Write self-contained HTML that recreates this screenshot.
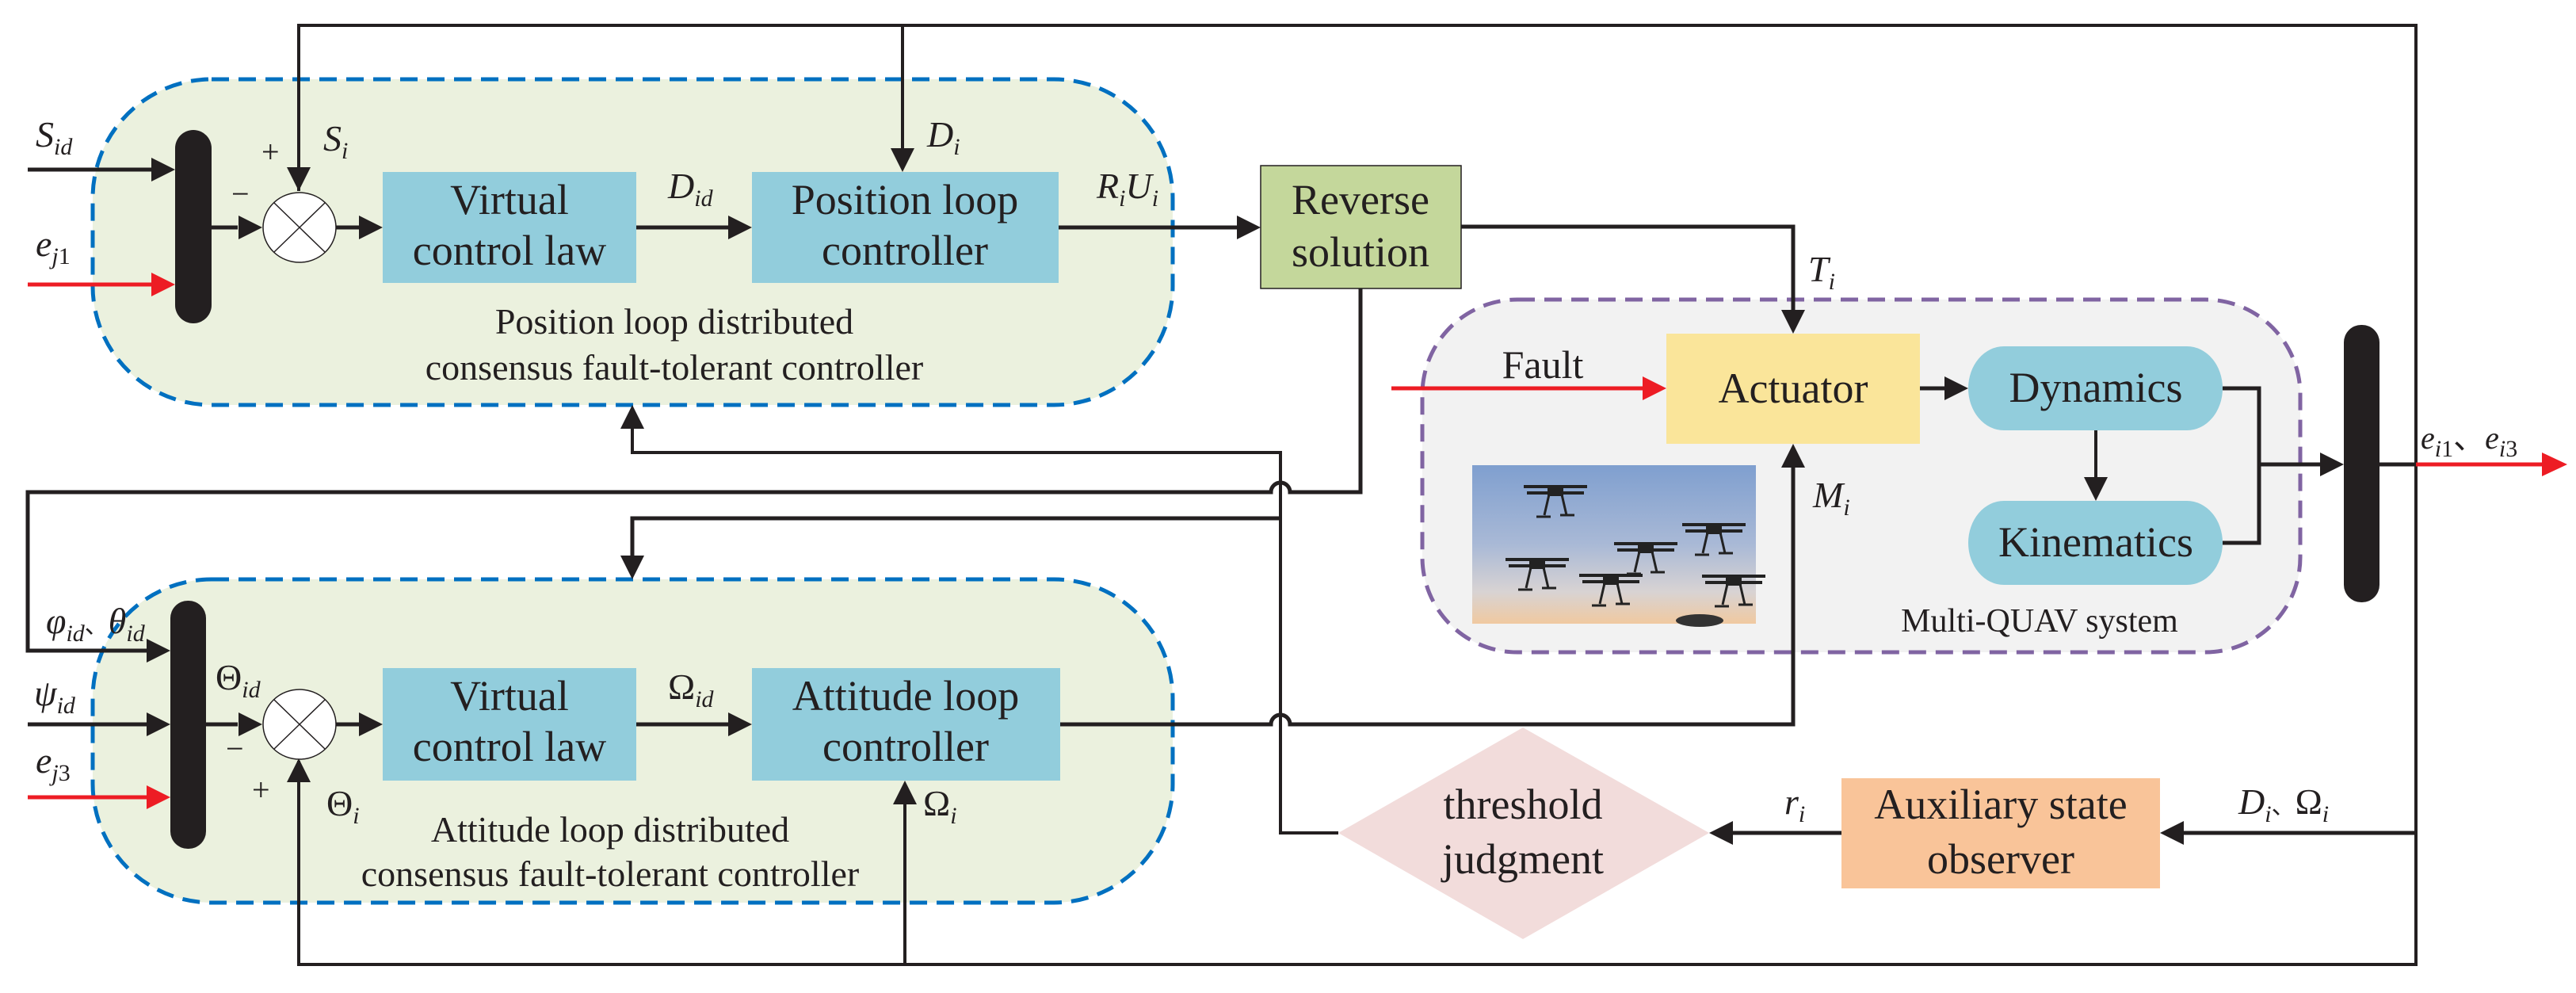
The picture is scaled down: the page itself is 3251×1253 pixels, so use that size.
<!DOCTYPE html>
<html><head><meta charset="utf-8"><style>
html,body{margin:0;padding:0;background:#fff;}
svg{display:block;}
text{font-family:"Liberation Serif",serif;fill:#231f20;}
.t{font-size:54px;text-anchor:middle;}
.c{font-size:46px;text-anchor:middle;}
.i{font-style:italic;font-size:46px;}
.s{font-size:30px;}
</style></head><body>
<svg width="3251" height="1253" viewBox="0 0 3251 1253" xmlns="http://www.w3.org/2000/svg">
<defs>
<linearGradient id="sky" x1="0" y1="0" x2="0" y2="1">
<stop offset="0" stop-color="#7f9fcf"/><stop offset="0.5" stop-color="#a9b9d6"/><stop offset="0.8" stop-color="#d8d3d3"/><stop offset="1" stop-color="#f0c9a0"/>
</linearGradient>
<g id="dr">
<rect x="-10" y="-8" width="20" height="14" fill="#222"/>
<line x1="-40" y1="-6" x2="40" y2="-6" stroke="#222" stroke-width="4"/>
<line x1="-36" y1="2" x2="36" y2="2" stroke="#222" stroke-width="4"/>
<line x1="-8" y1="4" x2="-14" y2="30" stroke="#222" stroke-width="3"/>
<line x1="8" y1="4" x2="14" y2="30" stroke="#222" stroke-width="3"/>
<line x1="-24" y1="32" x2="-6" y2="32" stroke="#222" stroke-width="3"/>
<line x1="6" y1="30" x2="24" y2="30" stroke="#222" stroke-width="3"/>
</g>
</defs>

<rect x="117" y="100" width="1363" height="411" rx="150" ry="150" fill="#ebf1de" stroke="#0070c0" stroke-width="5" stroke-dasharray="22 12"/>
<rect x="117" y="731" width="1363" height="408" rx="150" ry="150" fill="#ebf1de" stroke="#0070c0" stroke-width="5" stroke-dasharray="22 12"/>
<rect x="1795" y="378" width="1108" height="445" rx="120" ry="120" fill="#f2f2f2" stroke="#8064a2" stroke-width="5" stroke-dasharray="22 12"/>

<g stroke="#231f20" fill="none" stroke-width="4">
<polyline points="377,241 377,32 3049,32 3049,1217 377,1217 377,960"/>
<line x1="1139" y1="32" x2="1139" y2="200"/>
<line x1="1142" y1="1217" x2="1142" y2="1000"/>
<line x1="35" y1="214" x2="205" y2="214" stroke-width="5"/>
<line x1="266" y1="287" x2="300" y2="287" stroke-width="5"/>
<line x1="424" y1="287" x2="455" y2="287" stroke-width="5"/>
<line x1="803" y1="287" x2="920" y2="287" stroke-width="5"/>
<line x1="1336" y1="287" x2="1562" y2="287" stroke-width="5"/>
<polyline points="1844,286 2263,286 2263,400" stroke-width="5"/>
<path d="M1717,364 L1717,621 L1628,621 A12 12 0 0 0 1604,621 L35,621 L35,821 L190,821" stroke-width="5"/>
<polyline points="798,540 798,571 1616,571 1616,1051 1689,1051" stroke-width="4"/>
<polyline points="1616,654 798,654 798,705" stroke-width="5"/>
<line x1="35" y1="914" x2="190" y2="914" stroke-width="5"/>
<line x1="260" y1="914" x2="300" y2="914" stroke-width="5"/>
<line x1="424" y1="914" x2="455" y2="914" stroke-width="5"/>
<line x1="803" y1="914" x2="920" y2="914" stroke-width="5"/>
<path d="M1338,914 L1604,914 A12 12 0 0 1 1628,914 L2263,914 L2263,590" stroke-width="5"/>
<line x1="2423" y1="490" x2="2455" y2="490" stroke-width="5"/>
<polyline points="2805,490 2851,490 2851,685 2805,685" stroke-width="5"/>
<line x1="2851" y1="586" x2="2930" y2="586" stroke-width="5"/>
<line x1="2645" y1="543" x2="2645" y2="605"/>
<line x1="3003" y1="586" x2="3049" y2="586" stroke-width="5"/>
<line x1="3049" y1="1051" x2="2755" y2="1051" stroke-width="5"/>
<line x1="2324" y1="1051" x2="2185" y2="1051" stroke-width="5"/>
</g>
<g stroke="#ed1c24" stroke-width="5">
<line x1="35" y1="359" x2="195" y2="359"/>
<line x1="35" y1="1006" x2="190" y2="1006"/>
<line x1="1756" y1="490" x2="2075" y2="490"/>
<line x1="3049" y1="586" x2="3210" y2="586"/>
</g>
<g fill="#231f20">
<polygon points="221,214 191,199 191,229"/>
<polygon points="331,287 301,272 301,302"/>
<polygon points="483,287 453,272 453,302"/>
<polygon points="949,287 919,272 919,302"/>
<polygon points="1591,287 1561,272 1561,302"/>
<polygon points="377,241 362,211 392,211"/>
<polygon points="1139,217 1124,187 1154,187"/>
<polygon points="798,511 783,541 813,541"/>
<polygon points="798,731 783,701 813,701"/>
<polygon points="2263,421 2248,391 2278,391"/>
<polygon points="2263,560 2248,590 2278,590"/>
<polygon points="2484,490 2454,475 2454,505"/>
<polygon points="2645,632 2630,602 2660,602"/>
<polygon points="2958,586 2928,571 2928,601"/>
<polygon points="215,821 185,806 185,836"/>
<polygon points="215,914 185,899 185,929"/>
<polygon points="331,914 301,899 301,929"/>
<polygon points="483,914 453,899 453,929"/>
<polygon points="949,914 919,899 919,929"/>
<polygon points="377,957 362,987 392,987"/>
<polygon points="1142,985 1127,1015 1157,1015"/>
<polygon points="2726,1051 2756,1036 2756,1066"/>
<polygon points="2157,1051 2187,1036 2187,1066"/>
</g>
<g fill="#ed1c24">
<polygon points="221,359 191,344 191,374"/>
<polygon points="215,1006 185,991 185,1021"/>
<polygon points="2103,490 2073,475 2073,505"/>
<polygon points="3240,586 3208,571 3208,601"/>
</g>

<rect x="221" y="164" width="46" height="244" rx="23" fill="#231f20"/>
<rect x="215" y="758" width="45" height="313" rx="22" fill="#231f20"/>
<rect x="2958" y="410" width="45" height="350" rx="22" fill="#231f20"/>

<g stroke="#231f20" stroke-width="1.5" fill="#fff">
<ellipse cx="378" cy="287" rx="46" ry="44"/>
<line x1="346" y1="256" x2="410" y2="318"/><line x1="410" y1="256" x2="346" y2="318"/>
<ellipse cx="378" cy="914" rx="46" ry="44"/>
<line x1="346" y1="883" x2="410" y2="945"/><line x1="410" y1="883" x2="346" y2="945"/>
</g>

<rect x="483" y="217" width="320" height="140" fill="#92cddc"/>
<rect x="949" y="217" width="387" height="140" fill="#92cddc"/>
<rect x="1591" y="209" width="253" height="155" fill="#c4d79b" stroke="#231f20" stroke-width="1.5"/>
<rect x="483" y="843" width="320" height="142" fill="#92cddc"/>
<rect x="949" y="843" width="389" height="142" fill="#92cddc"/>
<rect x="2103" y="421" width="320" height="139" fill="#fae59a"/>
<rect x="2484" y="437" width="321" height="106" rx="45" ry="53" fill="#92cddc"/>
<rect x="2484" y="632" width="321" height="106" rx="45" ry="53" fill="#92cddc"/>
<polygon points="1922,918 2157,1051 1922,1185 1689,1051" fill="#f2dcdb"/>
<rect x="2324" y="982" width="402" height="139" fill="#f9c499"/>

<rect x="1858" y="587" width="358" height="200" fill="url(#sky)"/>
<use href="#dr" x="1963" y="620"/>
<use href="#dr" x="1940" y="712"/>
<use href="#dr" x="2077" y="692"/>
<use href="#dr" x="2163" y="668"/>
<use href="#dr" x="2033" y="732"/>
<use href="#dr" x="2188" y="733"/>
<ellipse cx="2145" cy="783" rx="30" ry="8" fill="#333"/>

<text class="t" x="643" y="270">Virtual</text>
<text class="t" x="643" y="334">control law</text>
<text class="t" x="1142" y="270">Position loop</text>
<text class="t" x="1142" y="334">controller</text>
<text class="t" x="1717" y="270">Reverse</text>
<text class="t" x="1717" y="336">solution</text>
<text class="t" x="643" y="896">Virtual</text>
<text class="t" x="643" y="960">control law</text>
<text class="t" x="1143" y="896">Attitude loop</text>
<text class="t" x="1143" y="960">controller</text>
<text class="t" x="2263" y="508">Actuator</text>
<text class="t" x="2645" y="507">Dynamics</text>
<text class="t" x="2645" y="702">Kinematics</text>
<text class="t" x="1922" y="1033">threshold</text>
<text class="t" x="1922" y="1102">judgment</text>
<text class="t" x="2525" y="1033">Auxiliary state</text>
<text class="t" x="2525" y="1102">observer</text>
<text class="t" x="1947" y="477" style="font-size:50px">Fault</text>

<text class="c" x="851" y="421">Position loop distributed</text>
<text class="c" x="851" y="479">consensus fault-tolerant controller</text>
<text class="c" x="770" y="1062">Attitude loop distributed</text>
<text class="c" x="770" y="1118">consensus fault-tolerant controller</text>
<text class="c" x="2574" y="797" style="font-size:42px">Multi-QUAV system</text>

<text class="i" x="45" y="185">S<tspan class="s" dy="10">id</tspan></text>
<text class="i" x="45" y="323">e<tspan class="s" dy="10">j</tspan><tspan class="s" style="font-style:normal">1</tspan></text>
<text x="330" y="205" style="font-size:40px">+</text>
<text x="292" y="258" style="font-size:40px">−</text>
<text class="i" x="408" y="190">S<tspan class="s" dy="10">i</tspan></text>
<text class="i" x="843" y="250">D<tspan class="s" dy="10">id</tspan></text>
<text class="i" x="1170" y="185">D<tspan class="s" dy="10">i</tspan></text>
<text class="i" x="1384" y="250">R<tspan class="s" dy="10">i</tspan><tspan dy="-10">U</tspan><tspan class="s" dy="10">i</tspan></text>
<text class="i" x="2282" y="355">T<tspan class="s" dy="10">i</tspan></text>
<text class="i" x="2288" y="640">M<tspan class="s" dy="10">i</tspan></text>
<text class="i" x="3055" y="566" style="font-size:40px">e<tspan class="s" dy="10">i</tspan><tspan class="s" style="font-style:normal">1</tspan><tspan dy="-10" style="font-style:normal">、</tspan>e<tspan class="s" dy="10">i</tspan><tspan class="s" style="font-style:normal">3</tspan></text>
<text class="i" x="58" y="799">φ<tspan class="s" dy="10">id</tspan><tspan dy="-10" style="font-style:normal;font-family:'Noto Sans CJK SC',sans-serif;font-size:30px">、</tspan>θ<tspan class="s" dy="10">id</tspan></text>
<text x="272" y="870" style="font-size:46px">Θ<tspan class="s" dy="10" style="font-style:italic">id</tspan></text>
<text class="i" x="43" y="890">ψ<tspan class="s" dy="10">id</tspan></text>
<text class="i" x="45" y="975">e<tspan class="s" dy="10">j</tspan><tspan class="s" style="font-style:normal">3</tspan></text>
<text x="285" y="958" style="font-size:40px">−</text>
<text x="318" y="1010" style="font-size:40px">+</text>
<text x="412" y="1029" style="font-size:46px">Θ<tspan class="s" dy="10" style="font-style:italic">i</tspan></text>
<text x="843" y="882" style="font-size:46px">Ω<tspan class="s" dy="10" style="font-style:italic">id</tspan></text>
<text x="1165" y="1029" style="font-size:46px">Ω<tspan class="s" dy="10" style="font-style:italic">i</tspan></text>
<text class="i" x="2252" y="1027">r<tspan class="s" dy="10">i</tspan></text>
<text class="i" x="2825" y="1027">D<tspan class="s" dy="10">i</tspan><tspan dy="-10" style="font-style:normal;font-size:30px">、</tspan><tspan style="font-style:normal">Ω</tspan><tspan class="s" dy="10">i</tspan></text>
</svg>
</body></html>
